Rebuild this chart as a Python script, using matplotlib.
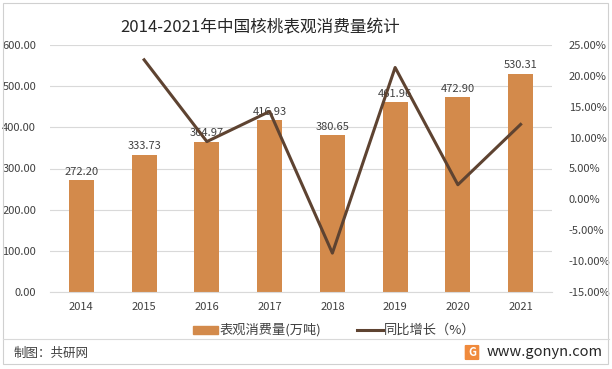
import matplotlib
matplotlib.use("Agg")
import matplotlib.pyplot as plt
from matplotlib.patches import Rectangle, FancyBboxPatch
from matplotlib.lines import Line2D
import matplotlib.ticker as mticker

plt.rcParams['font.family'] = ['Noto Sans CJK SC', 'DejaVu Sans']

years = ['2014', '2015', '2016', '2017', '2018', '2019', '2020', '2021']
consumption = [272.20, 333.73, 364.97, 416.93, 380.65, 461.96, 472.90, 530.31]
growth = [None, 22.60, 9.36, 14.24, -8.70, 21.36, 2.37, 12.14]

bar_color = '#D38A4B'
line_color = '#5E4331'
text_color = '#404040'

W, H = 612, 369
fig = plt.figure(figsize=(W/100, H/100), dpi=100)
fig.patch.set_facecolor('white')

ax = fig.add_axes([50/W, 1-292/H, (552-50)/W, (292-45)/H])
x = list(range(len(years)))
ax.bar(x, consumption, width=0.4, color=bar_color, zorder=2)
ax.set_ylim(0, 600)
ax.set_xlim(-0.5, len(years)-0.5)
ax.set_yticks(range(0, 601, 100))
ax.yaxis.set_major_formatter(mticker.FuncFormatter(lambda v, p: f"{v:.2f}"))
ax.set_xticks(x)
ax.set_xticklabels(years)
ax.grid(axis='y', color='#D9D9D9', linewidth=0.8, zorder=0)
for s in ['top', 'right', 'left']:
    ax.spines[s].set_visible(False)
ax.spines['bottom'].set_color('#D9D9D9')
ax.tick_params(axis='both', length=0, labelsize=8, colors=text_color)
ax.tick_params(axis='x', pad=7)
ax.tick_params(axis='y', pad=10)
for xi, v in zip(x, consumption):
    ax.text(xi, v + 8, f"{v:.2f}", ha='center', va='bottom', fontsize=8, color=text_color, zorder=3)

ax2 = ax.twinx()
gx = [xi for xi, g in zip(x, growth) if g is not None]
gy = [g for g in growth if g is not None]
ax2.plot(gx, gy, color=line_color, linewidth=2.2, zorder=4)
ax2.set_ylim(-15, 25)
ax2.set_yticks(range(-15, 26, 5))
ax2.yaxis.set_major_formatter(mticker.FuncFormatter(lambda v, p: f"{v:.2f}%"))
for s in ['top', 'right', 'left', 'bottom']:
    ax2.spines[s].set_visible(False)
ax2.tick_params(axis='y', length=0, labelsize=8, colors=text_color, pad=12)

# title
fig.text(260/W, 1-28/H, '2014-2021年中国核桃表观消费量统计', ha='center', va='center',
         fontsize=12, color='#262626')

# legend
fig.patches.append(Rectangle((193/W, 1-334/H), 25/W, 8/H, transform=fig.transFigure,
                             color=bar_color))
fig.text(219/W, 1-330/H, '表观消费量(万吨)', ha='left', va='center', fontsize=9.5, color=text_color)
fig.lines.append(Line2D([357/W, 383/W], [1-330/H, 1-330/H], transform=fig.transFigure,
                        color=line_color, linewidth=2.2))
fig.text(384/W, 1-330/H, '同比增长（%）', ha='left', va='center', fontsize=9.5, color=text_color)

# separator & footer
fig.lines.append(Line2D([3/W, 609/W], [1-339/H, 1-339/H], transform=fig.transFigure,
                        color='#D9D9D9', linewidth=0.8))
fig.text(14/W, 1-353/H, '制图：共研网', ha='left', va='center', fontsize=9, color='#404040')
fig.patches.append(FancyBboxPatch((466/W, 1-359/H), 12/W, 13/H, transform=fig.transFigure,
                                  boxstyle='round,pad=0.001', color='#F08A3C'))
fig.text(472/W, 1-352.5/H, 'G', ha='center', va='center', fontsize=8, color='white',
         fontweight='bold')
fig.text(487/W, 1-352/H, 'www.gonyn.com', ha='left', va='center', fontsize=10.5, color='#262626')

# border
fig.patches.append(Rectangle((3/W, 1-364/H), 605/W, 361/H, transform=fig.transFigure,
                             fill=False, edgecolor='#D0D0D0', linewidth=0.8))

fig.savefig('out.png', dpi=100, facecolor='white')
